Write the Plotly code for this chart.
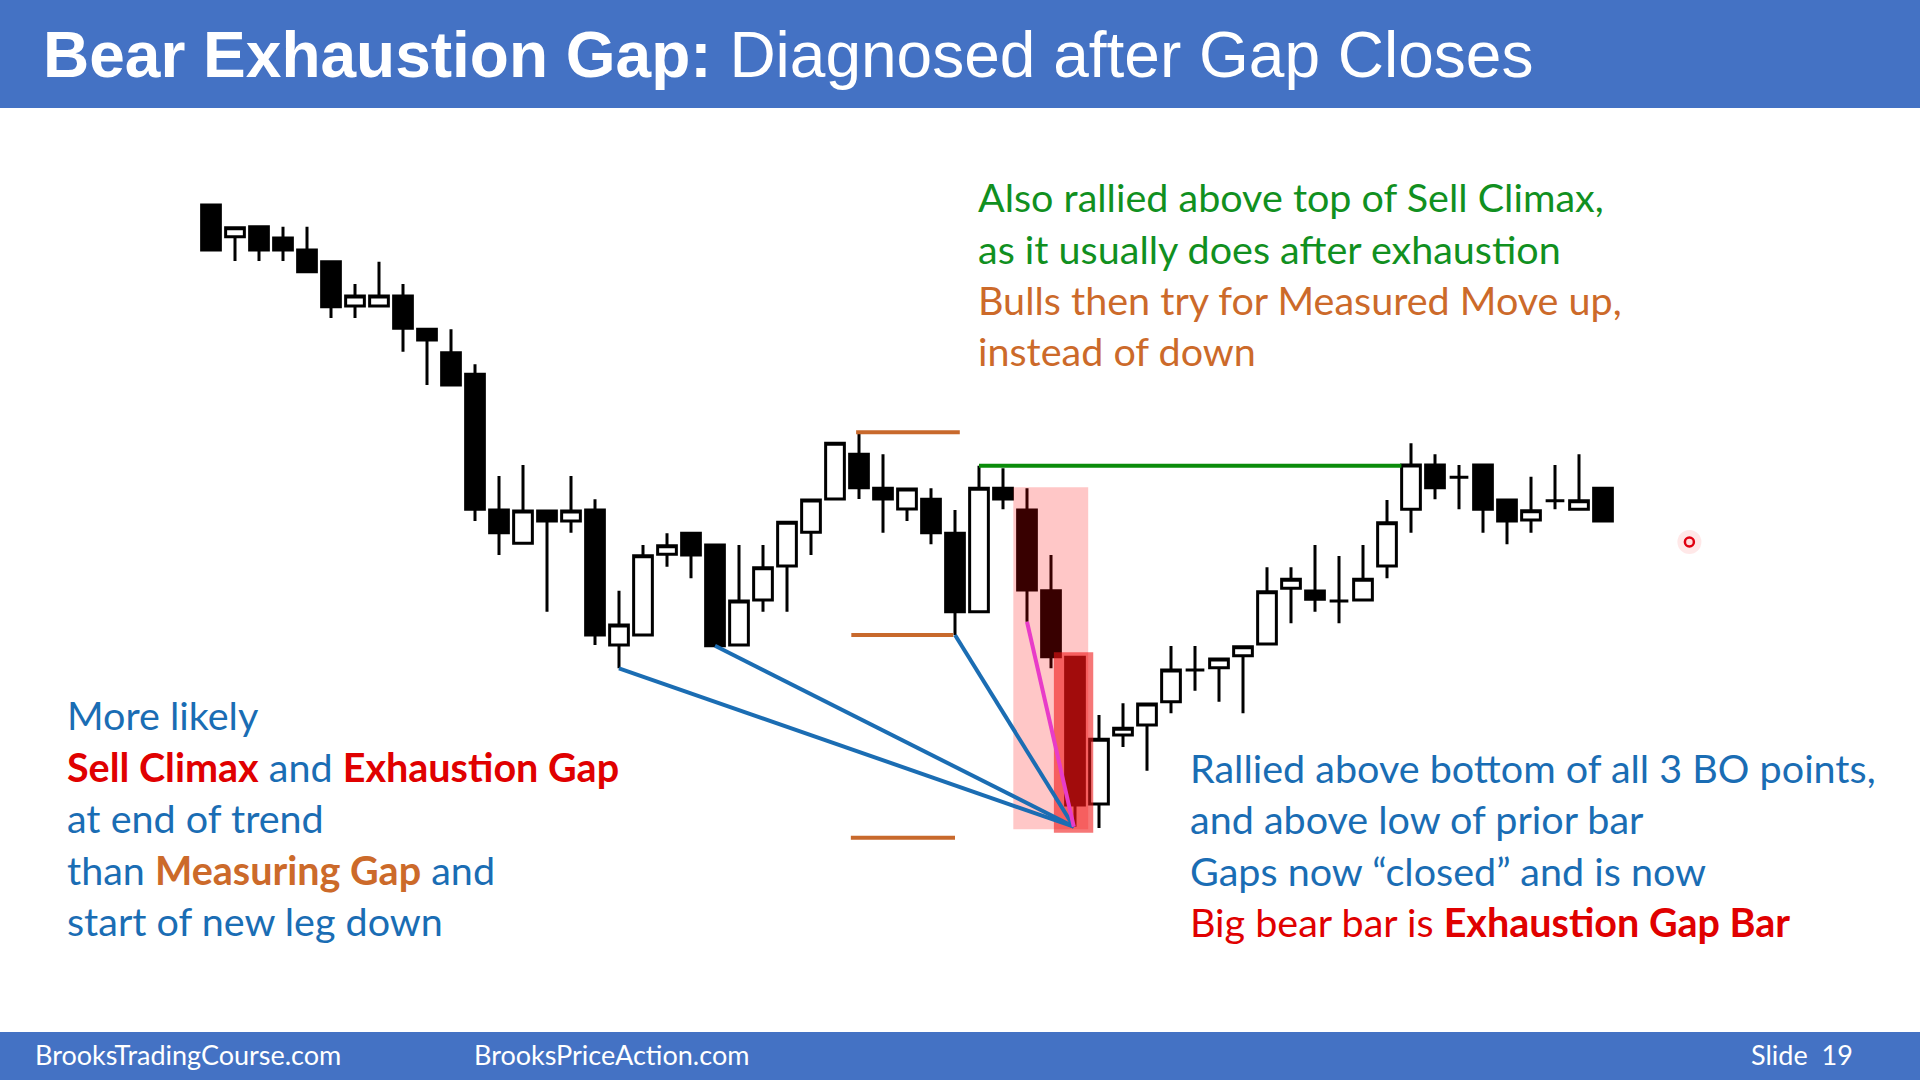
import plotly.graph_objects as go

# ---------------- data ----------------
bar_index = list(range(59))
open_ = [795, 763.3, 773.3, 762, 750, 738.3, 694, 694, 704, 670.7,
         647.3, 625.7, 490, 456.7, 489, 479, 490, 355, 365, 445.7,
         466.7, 455, 355, 400, 434, 467.7, 501, 545.7, 511.7, 491,
         500.7, 466.7, 388.3, 511.7, 490, 409.3, 342.7, 196, 265, 275,
         298.3, 330, 332.3, 344.3, 356, 411.7, 409, 399, 400, 434,
         490.7, 535, 522.7, 535, 500, 480, 499.3, 490.7, 511.7]
high = [795, 772.3, 773.3, 773.3, 773.3, 738.3, 716, 738.3, 716, 670.7,
        670.7, 635.7, 524, 535, 489, 524, 500.7, 409.3, 455, 466.7,
        466.7, 455, 455, 455, 477.7, 500, 556.7, 567.7, 545.7, 511,
        511.7, 490, 534.3, 531.7, 511.7, 445, 342.7, 285, 296.7, 296,
        354, 354, 341, 353.3, 432.7, 432.7, 455, 444, 455, 500,
        556.7, 545.7, 535, 535, 500, 523.3, 535, 545.7, 511.7]
low = [750, 739, 739, 739, 728.3, 682, 682, 694, 648.3, 615,
       615, 479, 445, 456.7, 388.3, 467.3, 355, 331.7, 365, 433.3,
       421.7, 354.3, 355, 388.3, 388.3, 445, 501, 501, 467.3, 479,
       455.7, 365, 388.3, 490.7, 378.3, 331.7, 173.3, 172, 253, 229.3,
       286.7, 309.3, 298.3, 286.7, 356, 376.7, 388.3, 376.7, 400, 421.7,
       467.3, 500.7, 490.7, 467.3, 455.7, 467.3, 490.7, 490.7, 479]
close = [750, 772.3, 750, 750, 728.3, 693.3, 704, 704, 671.7, 660,
         615, 490.7, 467.3, 489, 479, 489, 365, 375, 444.3, 454.3,
         445, 354.3, 399, 432.3, 477.7, 500, 556.7, 512.3, 501, 511,
         467.3, 388.3, 511.7, 501, 410, 343.3, 195, 260.7, 271.7, 296,
         330, 330, 341, 353.3, 408.3, 420.7, 400.7, 399, 420.7, 477.3,
         535, 512.3, 522.7, 490.7, 479, 489.3, 499.3, 499.3, 479]

# annotated bars
exhaustion_bar = 36          # big bear bar (Exhaustion Gap Bar)
bo_points = [17, 21, 31]     # breakout points joined to the exhaustion low
prior_bar = 34               # prior bar low (magenta)
mm_high_bar, mm_low_bar = 27, 31  # measured-move legs
green_bar, green_end = 32, 49.6   # top of sell climax line

title_bold = "Bear Exhaustion Gap:"
title_rest = " Diagnosed after Gap Closes"
footer_left = "BrooksTradingCourse.com"
footer_mid = "BrooksPriceAction.com"
footer_right = "Slide\u00a0 19"

BLUE = "#1a6db4"
RED = "#e00000"
ORANGE = "#cc6a2a"
GREEN = "#11901f"
HEADER = "#4472c4"

top_lines = [
    (f'<span style="color:{GREEN}">Also rallied above top of Sell Climax,</span>', 197),
    (f'<span style="color:{GREEN}">as it usually does after exhaustion</span>', 248),
    (f'<span style="color:{ORANGE}">Bulls then try for Measured Move up,</span>', 299),
    (f'<span style="color:{ORANGE}">instead of down</span>', 351),
]
left_lines = [
    (f'<span style="color:{BLUE}">More likely</span>', 714),
    (f'<span style="color:{RED}"><b>Sell Climax</b></span><span style="color:{BLUE}"> and </span>'
     f'<span style="color:{RED}"><b>Exhaustion Gap</b></span>', 766),
    (f'<span style="color:{BLUE}">at end of trend</span>', 817),
    (f'<span style="color:{BLUE}">than </span><span style="color:{ORANGE}"><b>Measuring Gap</b></span>'
     f'<span style="color:{BLUE}"> and</span>', 869),
    (f'<span style="color:{BLUE}">start of new leg down</span>', 920),
]
right_lines = [
    (f'<span style="color:{BLUE}">Rallied above bottom of all 3 BO points,</span>', 767),
    (f'<span style="color:{BLUE}">and above low of prior bar</span>', 818),
    (f'<span style="color:{BLUE}">Gaps now “closed” and is now</span>', 870),
    (f'<span style="color:{RED}">Big bear bar is </span><span style="color:{RED}"><b>Exhaustion Gap Bar</b></span>', 921),
]

# ---------------- figure ----------------
W, H = 1920, 1080
fig = go.Figure()

fig.add_trace(go.Candlestick(
    x=bar_index, open=open_, high=high, low=low, close=close,
    increasing=dict(fillcolor="white", line=dict(color="black", width=3)),
    decreasing=dict(fillcolor="black", line=dict(color="black", width=3)),
    whiskerwidth=0, showlegend=False, hoverinfo="skip",
))

# laser pointer dot
fig.add_trace(go.Scatter(x=[61.6], y=[458], mode="markers",
                         marker=dict(size=24, color="rgba(255,80,80,0.13)", line=dict(width=0)),
                         showlegend=False, hoverinfo="skip"))
fig.add_trace(go.Scatter(x=[61.6], y=[458], mode="markers",
                         marker=dict(size=9, color="#ffdede", line=dict(color="#e00010", width=2.5)),
                         showlegend=False, hoverinfo="skip"))

shapes = []
# header and footer bands
shapes.append(dict(type="rect", xref="paper", yref="paper", x0=0, x1=1, y0=1 - 108 / H, y1=1,
                   fillcolor=HEADER, line=dict(width=0), layer="below"))
shapes.append(dict(type="rect", xref="paper", yref="paper", x0=0, x1=1, y0=0, y1=48 / H,
                   fillcolor=HEADER, line=dict(width=0), layer="below"))

ex_low = low[exhaustion_bar]
# highlight rectangles
shapes.append(dict(type="rect", x0=33.43, x1=36.55, y0=low[exhaustion_bar] - 2.6, y1=high[prior_bar] + 1,
                   fillcolor="rgba(255,0,0,0.22)", line=dict(width=0), layer="above"))
shapes.append(dict(type="rect", x0=35.12, x1=36.76, y0=low[exhaustion_bar] - 6, y1=high[exhaustion_bar] + 5,
                   fillcolor="rgba(240,20,20,0.58)", line=dict(width=0), layer="above"))

# measured move lines
mm_top = high[mm_high_bar]
mm_mid = low[mm_low_bar]
mm_bot = mm_mid - (mm_top - mm_mid)
for y, x0, x1 in [(mm_top, 26.88, 31.2), (mm_mid, 26.68, 30.93), (mm_bot, 26.66, 31.0)]:
    shapes.append(dict(type="line", x0=x0, x1=x1, y0=y, y1=y,
                       line=dict(color="#c8692c", width=4), layer="above"))

# green line at top of sell climax
shapes.append(dict(type="line", x0=green_bar, x1=green_end, y0=high[green_bar], y1=high[green_bar],
                   line=dict(color="#0a8c0a", width=4), layer="above"))

# blue lines from the BO points to the exhaustion low
for b in bo_points:
    shapes.append(dict(type="line", x0=b, y0=low[b], x1=exhaustion_bar - 0.05, y1=ex_low,
                       line=dict(color="#1b6db3", width=4), layer="above"))
# magenta line from prior bar low
shapes.append(dict(type="line", x0=prior_bar, y0=low[prior_bar], x1=exhaustion_bar - 0.05, y1=ex_low,
                   line=dict(color="#e83cc8", width=4), layer="above"))

annotations = []


def px(x):
    return x / W


def py(y):
    return 1 - y / H


TXT_FONT = "Lato, 'Open Sans', sans-serif"
TXT_SIZE = 39.5
for txt, y in top_lines:
    annotations.append(dict(text=txt, x=px(976), y=py(y), xref="paper", yref="paper",
                            xanchor="left", yanchor="middle", showarrow=False,
                            font=dict(family=TXT_FONT, size=TXT_SIZE)))
for txt, y in left_lines:
    annotations.append(dict(text=txt, x=px(65), y=py(y), xref="paper", yref="paper",
                            xanchor="left", yanchor="middle", showarrow=False,
                            font=dict(family=TXT_FONT, size=TXT_SIZE)))
for txt, y in right_lines:
    annotations.append(dict(text=txt, x=px(1188), y=py(y), xref="paper", yref="paper",
                            xanchor="left", yanchor="middle", showarrow=False,
                            font=dict(family=TXT_FONT, size=TXT_SIZE)))

annotations.append(dict(text=f"<b>{title_bold}</b>{title_rest}", x=px(41), y=py(55),
                        xref="paper", yref="paper", xanchor="left", yanchor="middle",
                        showarrow=False,
                        font=dict(family="'Liberation Sans', Arial, sans-serif", size=64, color="white")))
for txt, x in [(footer_left, 33), (footer_mid, 472), (footer_right, 1749)]:
    annotations.append(dict(text=txt, x=px(x), y=py(1054), xref="paper", yref="paper",
                            xanchor="left", yanchor="middle", showarrow=False,
                            font=dict(family=TXT_FONT, size=27, color="white")))

fig.update_layout(
    width=W, height=H, margin=dict(l=0, r=0, t=0, b=0),
    paper_bgcolor="white", plot_bgcolor="white",
    boxgap=0.22, boxgroupgap=0,
    xaxis=dict(range=[-211 / 24, (W - 211) / 24], visible=False, fixedrange=True,
               rangeslider=dict(visible=False), domain=[0, 1]),
    yaxis=dict(range=[-80, 1000], visible=False, fixedrange=True, domain=[0, 1]),
    shapes=shapes, annotations=annotations,
    hovermode=False, showlegend=False,
)

fig.write_html("out.html", config=dict(displayModeBar=False))
